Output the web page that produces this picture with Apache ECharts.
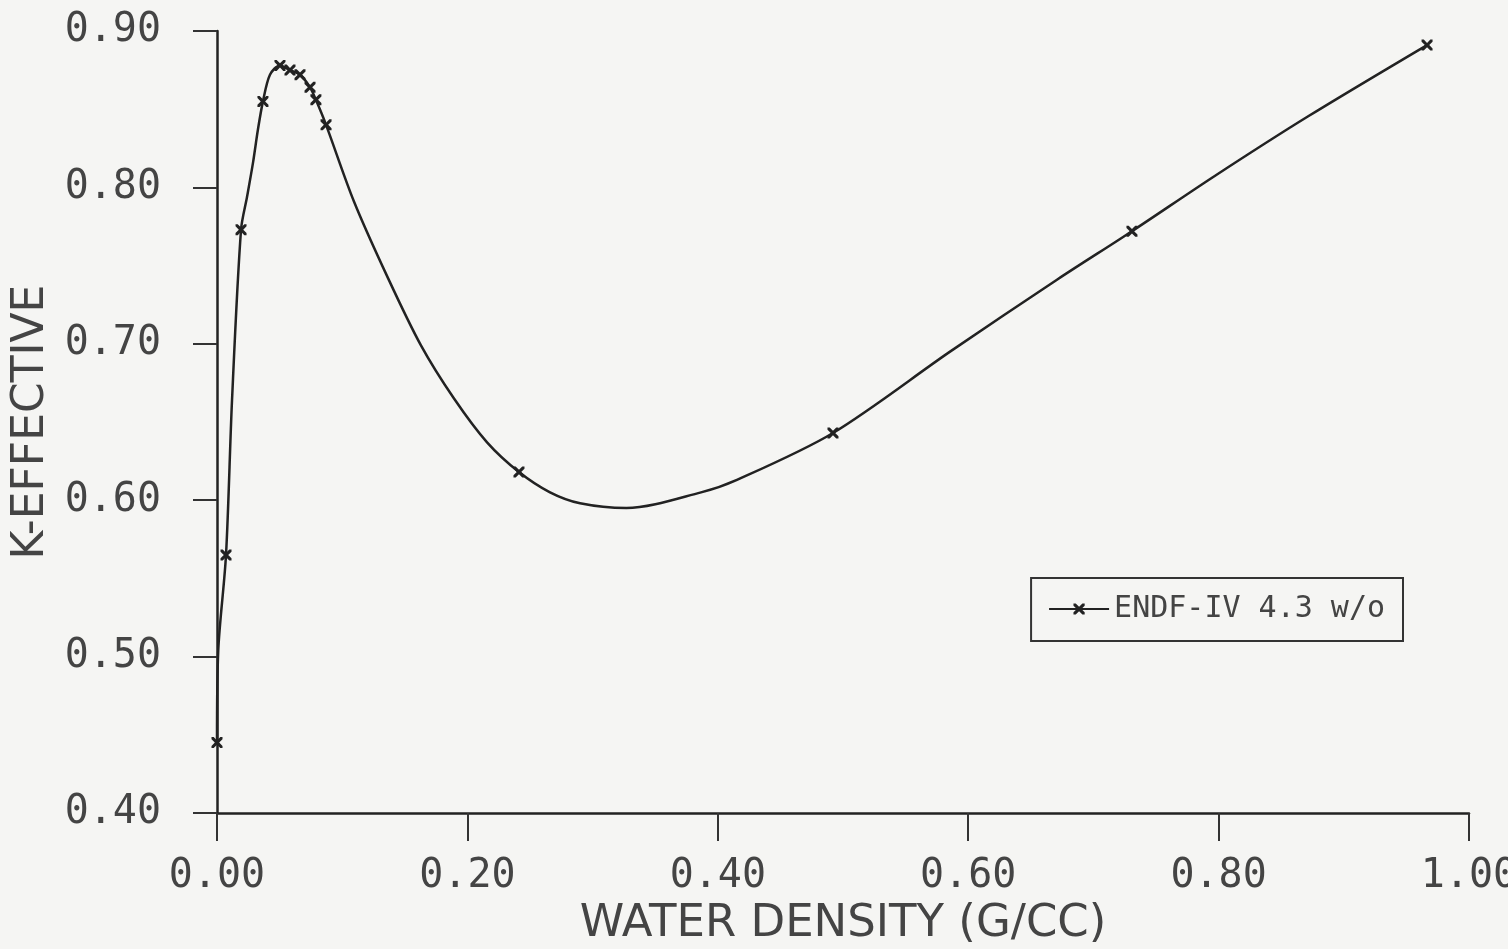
<!DOCTYPE html>
<html lang="en">
<head>
    <meta charset="UTF-8">
    <title>K-EFFECTIVE</title>
    <script src="https://cdn.jsdelivr.net/npm/echarts@6/dist/echarts.min.js"></script>
</head>
<body style="margin:0;background:#f5f5f3;">
<div id="main" style="width:1508px;height:949px;"></div>
<script>
    // water density (g/cc)
    var density = [0, 0.001, 0.0072, 0.012, 0.0192, 0.024, 0.0288, 0.0327, 0.0367, 0.0423, 0.0503,
        0.0583, 0.0663, 0.0743, 0.079, 0.0871, 0.1094, 0.1366, 0.1629, 0.1893, 0.2157, 0.2412,
        0.266, 0.290, 0.327, 0.3866, 0.4153, 0.492, 0.5855, 0.6709, 0.7308, 0.7963, 0.8706, 0.9665];
    // k-effective at each density
    var kEff = [0.445, 0.504, 0.565, 0.664, 0.773, 0.794, 0.816, 0.837, 0.855, 0.872, 0.878,
        0.875, 0.872, 0.864, 0.856, 0.840, 0.791, 0.742, 0.699, 0.665, 0.637, 0.618,
        0.605, 0.598, 0.595, 0.605, 0.613, 0.643, 0.695, 0.741, 0.772, 0.807, 0.845, 0.891];
    // indexes of the points drawn with an x marker
    var marked = [0, 2, 4, 8, 10, 11, 12, 13, 14, 15, 21, 27, 30, 33];
    var xTicks = ['0.00', '0.20', '0.40', '0.60', '0.80', '1.00'];

    var cross = 'path://M0,0L2,0L5,3L8,0L10,0L10,2L7,5L10,8L10,10L8,10L5,7L2,10L0,10L0,8L3,5L0,2Z';

    var pts = [];
    for (var i = 0; i < density.length; i++) {
        pts.push([density[i], kEff[i]]);
    }

    var myChart = echarts.init(document.getElementById('main'));
    var mono = '"DejaVu Sans Mono", monospace';

    var option = {
        backgroundColor: '#f5f5f3',
        animation: false,
        grid: {left: 217, right: 39, top: 31, bottom: 136, outerBoundsMode: 'none'},
        legend: {
            right: 105,
            top: 578,
            padding: [16, 18, 17, 17],
            borderColor: '#333',
            borderWidth: 2,
            itemWidth: 60,
            itemHeight: 14,
            itemGap: 13,
            textStyle: {fontFamily: mono, fontSize: 30, color: '#444'},
            data: ['ENDF-IV 4.3 w/o']
        },
        xAxis: {
            type: 'value',
            min: 0,
            max: 1,
            interval: 0.2,
            name: 'WATER DENSITY (G/CC)',
            nameLocation: 'middle',
            nameGap: 80,
            nameTextStyle: {fontFamily: '"DejaVu Sans"', fontSize: 45, color: '#444'},
            splitLine: {show: false},
            axisLine: {lineStyle: {color: '#222', width: 2.5}},
            axisTick: {length: 28, lineStyle: {color: '#333', width: 2}},
            axisLabel: {
                margin: 44,
                fontFamily: mono,
                fontSize: 40,
                color: '#444',
                formatter: function (v) {
                    return xTicks[Math.round(v / 0.2)];
                }
            }
        },
        yAxis: {
            type: 'value',
            min: 0.4,
            max: 0.9,
            interval: 0.1,
            name: 'K-EFFECTIVE',
            nameLocation: 'middle',
            nameGap: 157,
            nameTextStyle: {fontFamily: '"DejaVu Sans"', fontSize: 44, color: '#444'},
            splitLine: {show: false},
            axisLine: {show: true, lineStyle: {color: '#222', width: 2.5}},
            axisTick: {show: true, length: 24, lineStyle: {color: '#333', width: 2}},
            axisLabel: {
                margin: 56,
                fontFamily: mono,
                fontSize: 40,
                color: '#444',
                formatter: function (v) {
                    return v.toFixed(2);
                }
            }
        },
        series: [{
            name: 'ENDF-IV 4.3 w/o',
            type: 'line',
            data: pts,
            smooth: 0.3,
            symbol: cross,
            symbolSize: function (value, params) {
                return marked.indexOf(params.dataIndex) >= 0 ? 11 : 0;
            },
            itemStyle: {color: '#222'},
            lineStyle: {color: '#222', width: 2.5}
        }]
    };
    myChart.setOption(option);
</script>
</body>
</html>
